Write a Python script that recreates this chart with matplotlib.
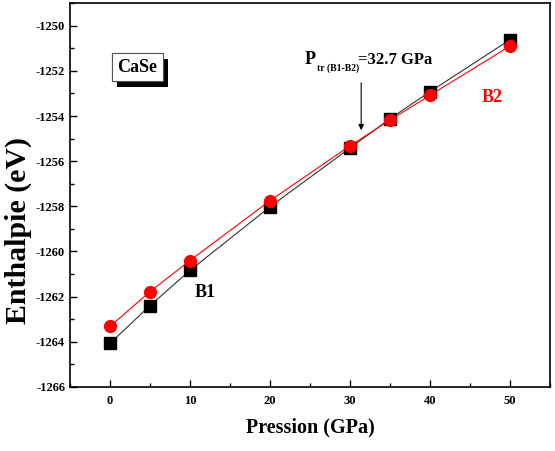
import numpy as np
import matplotlib
matplotlib.use('Agg')
import matplotlib.pyplot as plt
import matplotlib.patheffects as pe
from matplotlib.ticker import MultipleLocator

pression = [0, 5, 10, 20, 30, 35, 40, 50]
h_b1 = [-1264.07, -1262.4, -1260.84, -1258.02, -1255.42, -1254.12, -1252.92, -1250.62]
h_b2 = [-1263.32, -1261.78, -1260.4, -1257.75, -1255.32, -1254.18, -1253.08, -1250.9]

plt.rcParams['font.family'] = 'Liberation Serif'
plt.rcParams['font.weight'] = 'bold'
plt.rcParams['axes.unicode_minus'] = False

fig = plt.figure(figsize=(5.55, 4.51), dpi=100)
ax = fig.add_axes([0.126, 0.142, 0.865, 0.851])

ax.plot(pression, h_b1, '-', color='#333333', lw=0.8, marker='s', ms=8,
        mfc='black', mec='black')
ax.plot(pression, h_b2, '-', color='red', lw=0.8, marker='o', ms=8.5,
        mfc='red', mec='red')

ax.set_xlim(-5, 55)
ax.set_ylim(-1266, -1249)
ax.xaxis.set_major_locator(MultipleLocator(10))
ax.xaxis.set_minor_locator(MultipleLocator(5))
ax.yaxis.set_major_locator(MultipleLocator(2))
ax.yaxis.set_minor_locator(MultipleLocator(1))
ax.tick_params(which='both', direction='in', top=False, right=False, labelsize=9)
ax.tick_params(which='major', length=5, width=1)
ax.tick_params(which='minor', length=3, width=1)
for lab in ax.get_xticklabels() + ax.get_yticklabels():
    lab.set_fontweight('bold')
ax.tick_params(axis='x', pad=6)
for s in ax.spines.values():
    s.set_linewidth(1.2)

ax.set_xlabel('Pression (GPa)', fontsize=14.5, fontweight='bold', labelpad=7)
fig.text(18 / 555, 1 - 231 / 451, 'Enthalpie (eV)', rotation=90, fontsize=21.5,
         fontweight='bold', ha='center', va='center')

t = ax.text(0.14, 0.833, 'CaSe', transform=ax.transAxes, fontsize=13,
            fontweight='bold', ha='center', va='center',
            bbox=dict(boxstyle='square,pad=0.3', fc='white', ec='#555555', lw=0.8))
t.get_bbox_patch().set_path_effects([
    pe.withSimplePatchShadow(offset=(4, -4), shadow_rgbFace='black', alpha=1.0),
    pe.Normal()])

ax.text(11.9, -1261.8, 'B1', fontsize=13, fontweight='bold', ha='center', va='center')
ax.text(47.8, -1253.2, 'B2', fontsize=13, fontweight='bold', color='red',
        ha='center', va='center')

# transition pressure label: P + subscript + value
px, py = 24.3, -1251.7
ax.text(px, py, 'P', fontsize=13, fontweight='bold', ha='left', va='baseline')
ax.text(px + 1.6, py - 0.3, 'tr (B1-B2)', fontsize=7, fontweight='bold',
        ha='left', va='baseline')
ax.text(px + 6.7, py, '=32.7 GPa', fontsize=12, fontweight='bold',
        ha='left', va='baseline')
ax.annotate('', xy=(31.4, -1254.75), xytext=(31.4, -1252.4),
            arrowprops=dict(arrowstyle='-|>', color='black', lw=0.8,
                            mutation_scale=8))

fig.savefig('out.png', dpi=100)
